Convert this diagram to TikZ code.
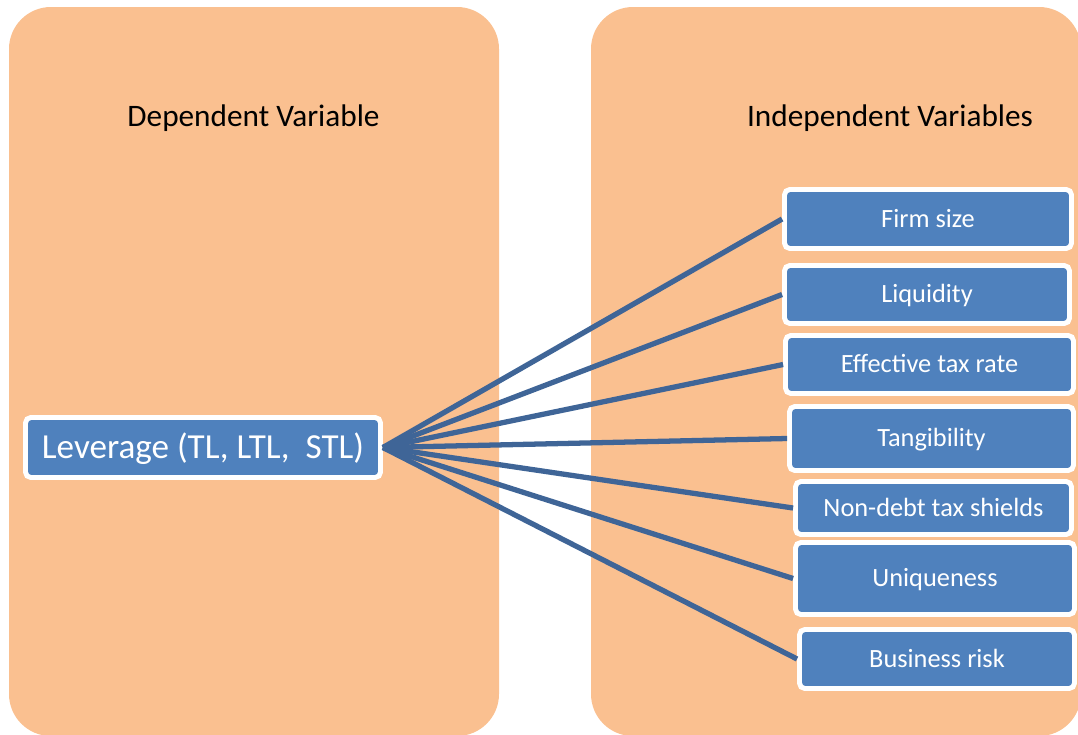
\documentclass[tikz,border=0pt]{standalone}
\usepackage{fontspec}
\setmainfont{Carlito}
\usetikzlibrary{positioning}

\definecolor{panelorange}{HTML}{FAC090}
\definecolor{boxblue}{HTML}{4F81BD}
\definecolor{linkblue}{HTML}{3F6597}

\begin{document}
\begin{tikzpicture}[x=0.02cm, y=-0.02cm,
					panel/.style={fill=panelorange, rounded corners=0.84cm},
					heading/.style={anchor=base, text=black, font=\fontsize{17.8}{21}\selectfont},
					varbox/.style={draw=white, line width=2.8pt, fill=boxblue, rounded corners=3pt,
						text=white, inner sep=0pt, text height=9.6pt, text depth=0pt,
						font=\fontsize{15}{18}\selectfont},
					link/.style={draw=linkblue, line width=3pt} ]
					\useasboundingbox (0,0) rectangle (1078,734);
					
					%Painéis de fundo
					\fill[panel] (9,7) rectangle (499,736);
					\fill[panel] (591,7) rectangle (1081,736);
					
					\node[heading] (dep) at (253.5,126) {Dependent Variable};
					\node[heading] (indep) at (890,126) {Independent Variables};
					
					%Variável dependente
					\node[varbox, minimum width=7.1cm, minimum height=1.2cm, text height=12.9pt,
						font=\fontsize{20}{24}\selectfont] (lev) at (203,447.5) {Leverage (TL, LTL,\ \ STL)};
					
					%Variáveis independentes
					\node[varbox, minimum width=5.74cm, minimum height=1.18cm] (firm) at (928,219) {Firm size};
					\node[varbox, minimum width=5.70cm, minimum height=1.16cm] (liq) at (927,294.5) {Liquidity};
					\node[varbox, minimum width=5.76cm, minimum height=1.16cm] (eff) at (929.5,364.5) {Effective tax rate};
					\node[varbox, minimum width=5.68cm, minimum height=1.28cm] (tang) at (931.5,438.5) {Tangibility};
					\node[varbox, minimum width=5.52cm, minimum height=1.06cm] (ndts) at (933.5,508) {Non-debt tax shields};
					\node[varbox, minimum width=5.58cm, minimum height=1.44cm] (uniq) at (935,578.5) {Uniqueness};
					\node[varbox, minimum width=5.50cm, minimum height=1.18cm] (risk) at (937,659) {Business risk};
					
					%Ligações:
					\foreach \v in {firm,liq,eff,tang,ndts,uniq,risk}
						\draw[link] (lev.east) -- (\v.west);
				\end{tikzpicture}
\end{document}
